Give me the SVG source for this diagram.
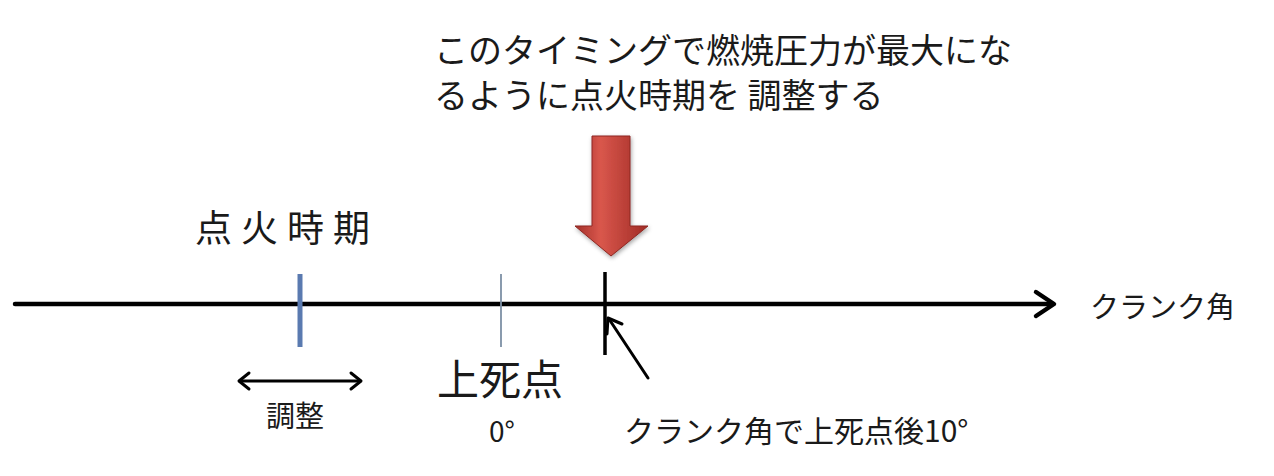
<svg xmlns="http://www.w3.org/2000/svg" width="1274" height="476" viewBox="0 0 1274 476">
<defs>
<style>
text{font-family:"Noto Sans CJK JP","Noto Sans",sans-serif;fill:#1a1a1a}
.conn{stroke:#000;fill:none;stroke-linecap:round;stroke-linejoin:round}
</style>
<linearGradient id="red" x1="0" y1="0" x2="1" y2="0">
<stop offset="0" stop-color="#a3302a"/>
<stop offset="0.35" stop-color="#d9574c"/>
<stop offset="1" stop-color="#a02b25"/>
</linearGradient>
<filter id="sh" x="-20%" y="-20%" width="140%" height="140%"><feDropShadow dx="1" dy="2" stdDeviation="2" flood-opacity="0.35"/></filter>
</defs>
<rect width="1274" height="476" fill="#fff"/>
<g id="title">
<text font-size="34"><tspan x="434" y="63">このタイミングで燃焼圧力が最大にな</tspan><tspan x="434" y="108">るように点火時期を 調整する</tspan></text>
</g>
<g id="red-arrow" filter="url(#sh)">
<path d="M592,136 L630,136 L630,226 L648,226 L611,256 L575,226 L592,226 Z" fill="url(#red)" stroke="#8d2620" stroke-width="1"/>
</g>
<g id="connectors">
<line class="conn" x1="15" y1="304" x2="1052" y2="304" stroke-width="4.5"/>
<polyline class="conn" points="1036,292 1054,304 1036,316" stroke-width="4.5"/>
<line class="conn" x1="240" y1="381" x2="360" y2="381" stroke-width="3"/>
<polyline class="conn" points="249,373 239,381 249,389" stroke-width="3"/>
<polyline class="conn" points="351,373 361,381 351,389" stroke-width="3"/>
<line class="conn" x1="648" y1="378" x2="609" y2="319" stroke-width="3"/>
<polyline class="conn" points="607,334 608,318 622,324" stroke-width="3"/>
</g>
<g id="ignition">
<text x="195" y="242" font-size="37" letter-spacing="9">点火時期</text>
<line x1="300" y1="274" x2="300" y2="347" stroke="#5a7ab0" stroke-width="5"/>
</g>
<g id="adjust">
<text x="295" y="427" font-size="29" text-anchor="middle">調整</text>
</g>
<g id="tdc">
<line x1="501" y1="274" x2="501" y2="347" stroke="#7d90a5" stroke-width="1.8"/>
<text x="500" y="395" font-size="42" text-anchor="middle">上死点</text>
<text x="502" y="442" font-size="28" text-anchor="middle">0°</text>
</g>
<g id="atdc">
<line x1="605" y1="272" x2="605" y2="355" stroke="#000" stroke-width="3.5"/>
<text x="624" y="442" font-size="30">クランク角で上死点後10°</text>
</g>
<g id="axis-label">
<text x="1090" y="318" font-size="29">クランク角</text>
</g>
</svg>
